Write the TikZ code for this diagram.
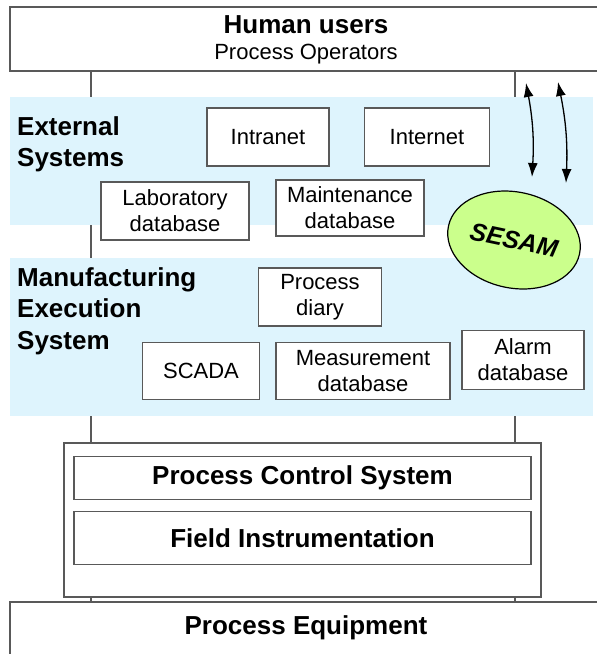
\documentclass[tikz,border=0pt]{standalone}
\usepackage{fontspec}
\setmainfont{Liberation Sans}
\usetikzlibrary{arrows.meta,shapes.geometric}
\begin{document}
\begin{tikzpicture}[x=1pt,y=-1pt,
  frame/.style={draw=black!65, line width=1.1pt, fill=white},
  box/.style={frame, align=center, font=\fontsize{22}{26}\selectfont, inner sep=0pt},
  band/.style={fill=cyan!13!white, draw=none},
  title/.style={font=\fontsize{26}{31.5}\selectfont\bfseries, align=left, anchor=north west, inner sep=0pt},
  heading/.style={font=\fontsize{26}{30}\selectfont\bfseries},
  bus/.style={draw=black!65, line width=1.1pt},
  link/.style={draw=black, line width=1.3pt, {Latex[length=14pt,width=10pt]}-{Latex[length=14pt,width=10pt]}}]
\useasboundingbox (0,0) rectangle (597,654);

% vertical bus lines behind everything
\coordinate (lt) at (91,71);  \coordinate (lb) at (91,602);
\coordinate (rt) at (515,71); \coordinate (rb) at (515,602);
\draw[bus] (lt) -- (lb);
\draw[bus] (rt) -- (rb);

% layer bands
\fill[band] (10,97) rectangle (593,225);
\fill[band] (10,258) rectangle (593,416);

% top and bottom layers
\node[frame, minimum width=597pt, minimum height=64pt, inner sep=0pt] (users) at (308.5,39) {};
\node[heading] (usersT) at (306,25) {Human users};
\node[font=\fontsize{22}{26}\selectfont] (usersS) at (306,54) {Process Operators};

\node[frame, minimum width=597pt, minimum height=64pt, inner sep=0pt] (equip) at (308.5,634) {};
\node[heading] (equipT) at (306,628) {Process Equipment};

% external systems
\node[title] (ext) at (17,116) {External\\Systems};
\node[box, minimum width=122pt, minimum height=58pt] (intranet) at (268,137) {Intranet};
\node[box, minimum width=125pt, minimum height=58pt] (internet) at (427,137) {Internet};
\node[box, minimum width=148pt, minimum height=58pt] (lab) at (175,211) {Laboratory\\database};
\node[box, minimum width=148pt, minimum height=56pt] (maint) at (350,208) {Maintenance\\database};

% manufacturing execution system
\node[title] (mes) at (17,267) {Manufacturing\\Execution\\System};
\node[box, minimum width=123pt, minimum height=58pt] (diary) at (320,297) {Process\\diary};
\node[box, minimum width=117pt, minimum height=57pt] (scada) at (201,371) {SCADA};
\node[box, minimum width=174pt, minimum height=57pt] (meas) at (363,371) {Measurement\\database};
\node[box, minimum width=122pt, minimum height=59pt] (alarm) at (523,360) {Alarm\\database};

% control layer
\node[frame, minimum width=477pt, minimum height=154pt, inner sep=0pt] (ctrl) at (302.5,520) {};
\node[frame, minimum width=457pt, minimum height=43pt, inner sep=0pt, heading] (pcs) at (302.5,478) {Process Control System};
\node[frame, minimum width=457pt, minimum height=53pt, inner sep=0pt, heading] (field) at (302.5,538) {Field Instrumentation};

% SESAM
\node[draw=black, line width=1.2pt, fill=green!45!yellow!45!white, ellipse, minimum width=134pt, minimum height=96pt,
      rotate=-12, inner sep=0pt, font=\fontsize{25}{30}\selectfont\bfseries\itshape] (sesam) at (514,240) {SESAM};

% links between users and SESAM
\coordinate (a1t) at (526,83);  \coordinate (a1b) at (532,177);
\coordinate (a2t) at (558,82);  \coordinate (a2b) at (566,183);
\draw[link] (a1t) to[bend left=7] (a1b);
\draw[link] (a2t) to[bend left=7] (a2b);
\end{tikzpicture}
\end{document}
